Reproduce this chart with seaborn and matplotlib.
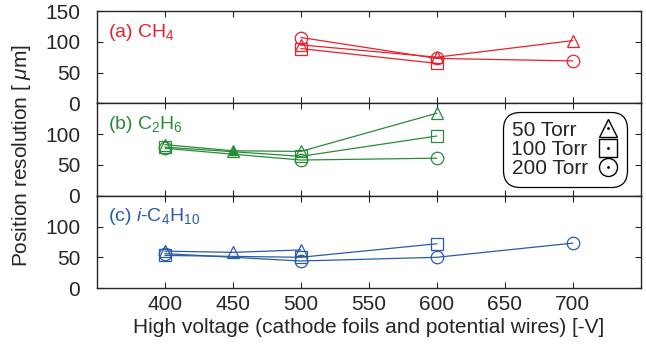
import matplotlib
matplotlib.use("Agg")
import matplotlib.pyplot as plt
import numpy as np
import pandas as pd
import seaborn as sns
from matplotlib.lines import Line2D

# position resolution [um] vs high voltage [-V], per gas and pressure
ch4_50_v, ch4_50 = [500, 600, 700], [95, 75, 102]
ch4_100_v, ch4_100 = [500, 600], [89, 65]
ch4_200_v, ch4_200 = [500, 600, 700], [107, 73, 69]

c2h6_50_v, c2h6_50 = [400, 450, 500, 600], [83, 73, 72, 134]
c2h6_100_v, c2h6_100 = [400, 500, 600], [79, 64, 97]
c2h6_200_v, c2h6_200 = [400, 500, 600], [77, 58, 61]

ic4h10_50_v, ic4h10_50 = [400, 450, 500], [60, 58, 62]
ic4h10_100_v, ic4h10_100 = [400, 500, 600], [53, 50, 72]
ic4h10_200_v, ic4h10_200 = [400, 500, 600, 700], [56, 44, 50, 73]

pressures = ["50 Torr\u2007", "100 Torr", "200 Torr"]
markers = ["^", "s", "o"]

panels = [
    ("(a) CH$_4$", "#e8212b",
     [(ch4_50_v, ch4_50), (ch4_100_v, ch4_100), (ch4_200_v, ch4_200)]),
    ("(b) C$_2$H$_6$", "#2b8a3a",
     [(c2h6_50_v, c2h6_50), (c2h6_100_v, c2h6_100), (c2h6_200_v, c2h6_200)]),
    ("(c) $i$-C$_4$H$_{10}$", "#2a5ba8",
     [(ic4h10_50_v, ic4h10_50), (ic4h10_100_v, ic4h10_100), (ic4h10_200_v, ic4h10_200)]),
]

FS = 15

sns.set_style("ticks")
plt.rcParams["font.family"] = ["Liberation Sans", "DejaVu Sans"]
plt.rcParams["mathtext.fontset"] = "custom"
plt.rcParams["mathtext.rm"] = "Liberation Sans"
plt.rcParams["mathtext.it"] = "Liberation Sans:italic"
plt.rcParams["font.size"] = FS

fig, axes = plt.subplots(3, 1, figsize=(6.46, 3.45), dpi=100, sharex=True)
fig.subplots_adjust(left=0.150, right=0.992, top=0.968, bottom=0.165, hspace=0)

for ax, (label, color, series) in zip(axes, panels):
    for (v, r), m in zip(series, markers):
        df = pd.DataFrame({"hv": v, "res": r})
        sns.lineplot(data=df, x="hv", y="res", ax=ax, color=color, lw=0.9,
                     marker=m, markersize=9, markerfacecolor="none",
                     markeredgecolor=color, markeredgewidth=0.9, legend=False)
    ax.text(0.02, 0.77, label, transform=ax.transAxes, color=color,
            fontsize=FS - 1, va="center", ha="left")
    ax.set_xlim(350, 750)
    ax.set_ylim(0, 150)
    ax.set_yticks([0, 50, 100, 150])
    ax.set_ylabel("")
    ax.set_xlabel("")
    ax.tick_params(direction="in", top=True, right=True, length=4,
                   labelsize=FS, width=0.8)
    ax.tick_params(axis="y", pad=12)
    ax.tick_params(axis="x", pad=5)
    for s in ax.spines.values():
        s.set_linewidth(1.0)

# filled triangle for C2H6 at 450 V
axes[1].plot([c2h6_50_v[1]], [c2h6_50[1]], marker="^", markersize=6,
             color=panels[1][1], ls="none")

axes[0].set_yticklabels(["0", "50", "100", "150"])
axes[1].set_yticklabels(["0", "50", "100", ""])
axes[2].set_yticklabels(["0", "50", "100", ""])
axes[2].set_xticks([400, 450, 500, 550, 600, 650, 700])
axes[2].set_xlabel("High voltage (cathode foils and potential wires) [-V]",
                   fontsize=FS, labelpad=3)
fig.text(0.034, 0.55, r"Position resolution [ $\mu$m]", rotation=90,
         ha="center", va="center", fontsize=FS)

handles = []
for m in markers:
    open_m = Line2D([], [], marker=m, ls="none", markersize=13,
                    markerfacecolor="none", markeredgecolor="black", markeredgewidth=1.0)
    dot = Line2D([], [], marker=".", ls="none", markersize=2, color="black")
    handles.append((open_m, dot))
leg = axes[1].legend(handles, pressures, loc="center right",
                     bbox_to_anchor=(0.975, 0.5), markerfirst=False, frameon=True,
                     fancybox=True, edgecolor="black", fontsize=FS,
                     handlelength=1.0, handletextpad=0.5, labelspacing=0.02,
                     borderpad=0.2, borderaxespad=0.2)
leg.get_frame().set_linewidth(0.9)
leg.get_frame().set_alpha(1)
leg.get_frame().set_boxstyle("round", pad=0.2, rounding_size=0.8)

plt.savefig("out.png", dpi=100)
